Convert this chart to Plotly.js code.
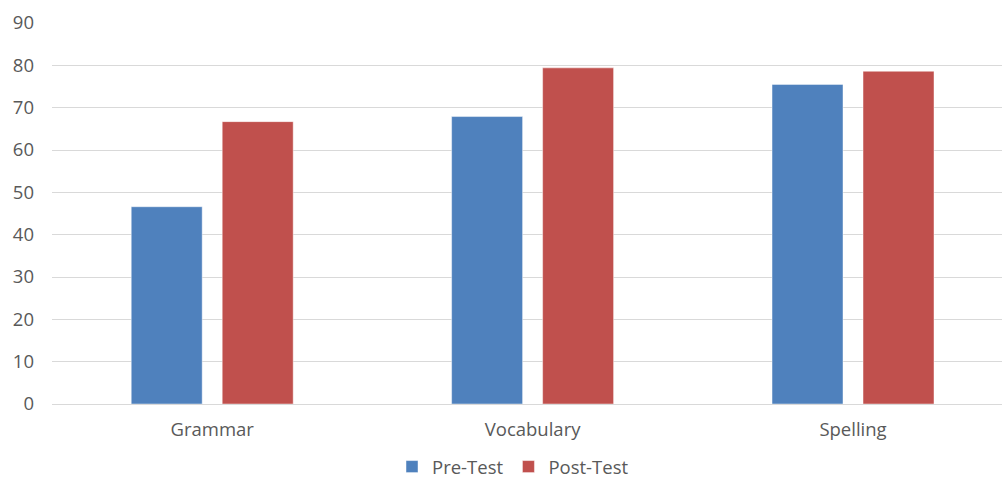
<!DOCTYPE html>
<html>
<head>
<meta charset="utf-8">
<script src="https://cdn.plot.ly/plotly-3.0.1.min.js"></script>
<style>html,body{margin:0;padding:0;background:#fff;}#chart{width:1002px;height:481px;}</style>
</head>
<body>
<div id="chart"></div>
<script>
const categories = ["Grammar", "Vocabulary", "Spelling"];
const preTest = [46.6, 67.9, 75.5];
const postTest = [66.7, 79.4, 78.6];
const seriesNames = ["Pre-Test", "Post-Test"];
const yTicks = [0, 10, 20, 30, 40, 50, 60, 70, 80, 90];

const font = {family: "Open Sans, Liberation Sans, sans-serif", size: 18.5, color: "#595959"};

const traces = [
  {type: "bar", name: seriesNames[0], x: categories, y: preTest,
   marker: {color: "#4F81BD", line: {color: "rgba(255,255,255,0.45)", width: 1}}},
  {type: "bar", name: seriesNames[1], x: categories, y: postTest,
   marker: {color: "#C0504D", line: {color: "rgba(255,255,255,0.45)", width: 1}}}
];

const layout = {
  width: 1002, height: 481,
  margin: {l: 52, r: 0, t: 23, b: 77},
  paper_bgcolor: "#fff", plot_bgcolor: "#fff",
  font: font,
  barmode: "group",
  bargap: 0.432,
  bargroupgap: 0.22,
  xaxis: {type: "category", range: [-0.5, 2.465], showgrid: false, showline: true,
          linecolor: "#D9D9D9", linewidth: 1, ticks: "", ticklabelstandoff: 9,
          tickfont: font, zeroline: false},
  yaxis: {range: [0, 90], tickvals: yTicks, ticktext: yTicks.map(String),
          showgrid: true, gridcolor: "#D9D9D9", gridwidth: 1, zeroline: false,
          showline: false, ticks: "", ticklabelstandoff: 17, tickfont: font},
  showlegend: true,
  legend: {orientation: "h", x: 0.512, xref: "container", xanchor: "center",
           y: 0.029, yref: "container", yanchor: "middle",
           font: font, itemwidth: 30, traceorder: "normal"}
};

Plotly.newPlot("chart", traces, layout, {displayModeBar: false, staticPlot: true});
</script>
</body>
</html>
